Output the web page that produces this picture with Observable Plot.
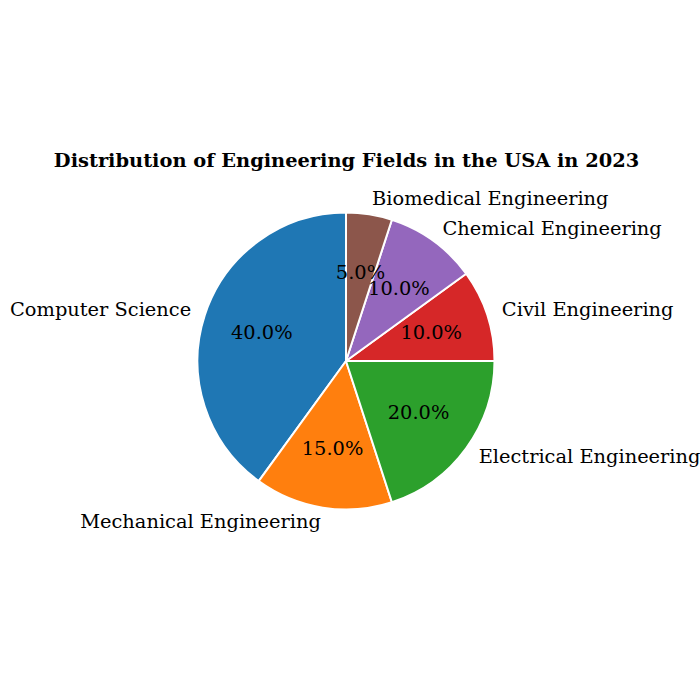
<!DOCTYPE html>
<html>
<head>
<meta charset="utf-8">
<script src="https://cdn.jsdelivr.net/npm/d3@7"></script>
<script src="https://cdn.jsdelivr.net/npm/@observablehq/plot@0.6"></script>
<style>
  html, body { margin: 0; padding: 0; background: #fff; }
  #chart { width: 700px; height: 700px; }
</style>
</head>
<body>
<div id="chart"></div>
<script>
const title = "Distribution of Engineering Fields in the USA in 2023";
const fields = ["Computer Science", "Mechanical Engineering", "Electrical Engineering", "Civil Engineering", "Chemical Engineering", "Biomedical Engineering"];
const shares = [40, 15, 20, 10, 10, 5];
const colors = ["#1f77b4", "#ff7f0e", "#2ca02c", "#d62728", "#9467bd", "#8c564b"];

// layout (pixels)
const W = 700, H = 700, cx = 346, cy = 361, R = 148.5;
const startAngle = 90; // degrees, counterclockwise like matplotlib
const labelDist = 1.1, pctDist = 0.6;
const fs = 19.4;

const total = d3.sum(shares);
let acc = startAngle;
const slices = fields.map((name, i) => {
  const a0 = acc;
  const a1 = acc + shares[i] / total * 360;
  acc = a1;
  const mid = (a0 + a1) / 2 * Math.PI / 180;
  return {
    name, value: shares[i], color: colors[i],
    a0, a1,
    lx: labelDist * Math.cos(mid), ly: labelDist * Math.sin(mid),
    px: pctDist * Math.cos(mid), py: pctDist * Math.sin(mid),
    pct: (shares[i] / total * 100).toFixed(1) + "%"
  };
});

const xDomain = [-cx / R, (W - cx) / R];
const yDomain = [-(H - cy) / R, cy / R];

function wedges(index, scales) {
  const {x, y} = scales;
  const ox = x(0), oy = y(0), rr = x(1) - x(0);
  const g = d3.create("svg:g").attr("transform", `translate(${ox},${oy})`);
  const arc = d3.arc().innerRadius(0).outerRadius(rr);
  for (const s of slices) {
    g.append("path")
      .attr("d", arc({startAngle: (90 - s.a0) * Math.PI / 180, endAngle: (90 - s.a1) * Math.PI / 180}))
      .attr("fill", s.color)
      .attr("stroke", "#fff")
      .attr("stroke-width", 2)
      .attr("stroke-linejoin", "round");
  }
  return g.node();
}

const font = "'DejaVu Serif', serif";

const plot = Plot.plot({
  width: W, height: H,
  margin: 0,
  x: {domain: xDomain, range: [0, W], axis: null},
  y: {domain: yDomain, range: [H, 0], axis: null},
  style: {fontFamily: font, background: "#fff", overflow: "hidden"},
  marks: [
    wedges,
    Plot.text(slices.filter(d => d.lx > 0), {x: "lx", y: "ly", text: "name", textAnchor: "start", fontSize: fs, fill: "#000", dy: -1}),
    Plot.text(slices.filter(d => d.lx <= 0), {x: "lx", y: "ly", text: "name", textAnchor: "end", fontSize: fs, fill: "#000", dy: -1}),
    Plot.text(slices, {x: "px", y: "py", text: "pct", textAnchor: "middle", fontSize: fs, fill: "#000", dy: -1}),
    Plot.text([title], {x: 0, y: (cy - 161) / R, text: d => d, textAnchor: "middle", fontSize: fs, fontWeight: "bold", fill: "#000", dy: -1})
  ]
});
document.getElementById("chart").appendChild(plot);
</script>
</body>
</html>
